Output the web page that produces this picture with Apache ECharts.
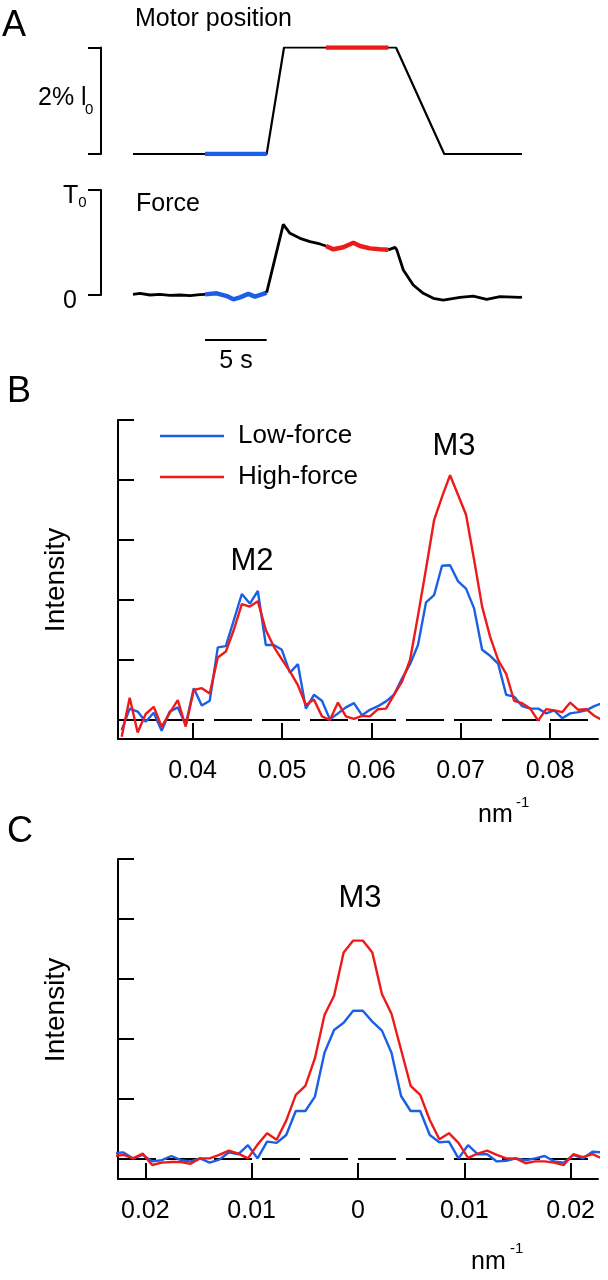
<!DOCTYPE html>
<html><head><meta charset="utf-8">
<script src="https://cdn.jsdelivr.net/npm/echarts@6/dist/echarts.min.js"></script>
<style>html,body{margin:0;padding:0;background:#fff}#c{width:608px;height:1280px}</style>
</head><body><div id="c"></div>
<script>
const FONT = '"Liberation Sans", Arial, Helvetica, sans-serif';
const BLUE = '#1b5fe6';
const RED = '#ee1a1a';

// ---------- Panel A: motor position (time in s, position in % l0) ----------
const motorTime = [0, 10.78, 12.18, 21.21, 25.1, 31.37];
const motorPos  = [0, 0, 2, 2, 0, 0];
const motorLowTime = [5.81, 10.78];
const motorLowPos  = [0, 0];
const motorHighTime = [15.56, 20.59];
const motorHighPos  = [2, 2];

// ---------- Panel A: force (time in s, force in T0) ----------
const forcePreTime = [0, 0.56, 1.37, 2.18, 2.98, 3.79, 4.6, 5.4, 5.81];
const forcePreVal  = [0.006, 0.016, 0, 0.006, -0.003, 0, -0.006, 0.003, 0.006];
const forceLowTime = [5.81, 6.75, 7.56, 8.09, 8.63, 9.3, 9.84, 10.51, 10.78];
const forceLowVal  = [0.006, 0.016, -0.01, -0.041, -0.022, 0.01, -0.016, 0.01, 0.022];
const forceMidTime = [10.78, 12.12, 12.66, 13.47, 14.27, 15.08, 15.56];
const forceMidVal  = [0.022, 0.673, 0.587, 0.54, 0.508, 0.486, 0.467];
const forceHighTime = [15.56, 16.16, 16.96, 17.77, 18.31, 19.11, 19.92, 20.59];
const forceHighVal  = [0.467, 0.435, 0.454, 0.498, 0.467, 0.444, 0.435, 0.43];
const forcePostTime = [20.59, 21.13, 21.27, 21.8, 22.6, 23.41, 24.22, 25.02, 26.37, 27.44, 28.52, 29.6, 31.21, 31.37];
const forcePostVal  = [0.43, 0.454, 0.43, 0.238, 0.095, 0.016, -0.032, -0.048, -0.022, -0.01, -0.041, -0.016, -0.022, -0.02];
const scaleBarTime = [5.81, 10.78];   // 5 s

// ---------- Panel B: meridional intensity profiles (nm^-1) ----------
const qB = [0.03205, 0.03295, 0.03384, 0.03474, 0.03564, 0.03653, 0.03743, 0.03833, 0.03922, 0.04012,
  0.04102, 0.04191, 0.04281, 0.04371, 0.04460, 0.04550, 0.04640, 0.04729, 0.04819, 0.04909,
  0.04998, 0.05088, 0.05178, 0.05267, 0.05357, 0.05447, 0.05536, 0.05626, 0.05715, 0.05805,
  0.05895, 0.05984, 0.06074, 0.06164, 0.06253, 0.06343, 0.06433, 0.06522, 0.06612, 0.06702,
  0.06791, 0.06881, 0.06971, 0.07060, 0.07150, 0.07240, 0.07329, 0.07419, 0.07509, 0.07598,
  0.07688, 0.07778, 0.07867, 0.07957, 0.08047, 0.08136, 0.08226, 0.08316, 0.08405, 0.08495, 0.08585];
const lowB = [-0.17, 0.19, 0.14, -0.03, 0.12, -0.18, 0.14, 0.21, -0.08, 0.53,
  0.24, 0.32, 1.21, 1.23, 1.66, 2.10, 1.94, 2.15, 1.25, 1.25,
  1.17, 0.79, 0.93, 0.19, 0.42, 0.32, 0.01, 0.11, 0.21, 0.28,
  0.08, 0.17, 0.23, 0.31, 0.42, 0.69, 0.93, 1.25, 1.96, 2.08,
  2.57, 2.58, 2.31, 2.19, 1.86, 1.17, 1.07, 0.94, 0.42, 0.39,
  0.23, 0.19, 0.19, 0.11, 0.16, 0.03, 0.11, 0.13, 0.16, 0.23, 0.28];
const highB = [-0.28, 0.37, -0.21, 0.10, 0.22, -0.11, 0.12, 0.33, -0.11, 0.50,
  0.53, 0.44, 1.04, 1.14, 1.50, 1.93, 1.89, 1.98, 1.50, 1.22,
  1.01, 0.81, 0.58, 0.25, 0.34, 0.06, 0.00, 0.29, 0.06, 0.02,
  0.07, 0.06, 0.18, 0.19, 0.42, 0.64, 1.00, 1.74, 2.52, 3.33,
  3.72, 4.08, 3.75, 3.42, 2.67, 1.89, 1.39, 1.00, 0.77, 0.32,
  0.28, 0.19, -0.01, 0.18, 0.16, 0.13, 0.29, 0.17, 0.18, 0.07, 0.00];
const ticksB = [0.04, 0.05, 0.06, 0.07, 0.08];
const rangeB = [0.03164, 0.08537];

// ---------- Panel C: equatorial (radial) profile of M3 (nm^-1) ----------
const qC = [-0.02295, -0.02205, -0.02115, -0.02025, -0.01935, -0.01845, -0.01755, -0.01665, -0.01575, -0.01485,
  -0.01395, -0.01305, -0.01215, -0.01125, -0.01035, -0.00945, -0.00855, -0.00765, -0.00675, -0.00585,
  -0.00495, -0.00405, -0.00315, -0.00225, -0.00135, -0.00045, 0.00045, 0.00135, 0.00225, 0.00315,
  0.00405, 0.00495, 0.00585, 0.00675, 0.00765, 0.00855, 0.00945, 0.01035, 0.01125, 0.01215,
  0.01305, 0.01395, 0.01485, 0.01575, 0.01665, 0.01755, 0.01845, 0.01935, 0.02025, 0.02115, 0.02205, 0.02295];
const lowC = [0.10, 0.11, 0.01, 0.07, -0.04, -0.02, 0.05, -0.02, -0.04, 0.01,
  -0.06, -0.01, 0.11, 0.08, 0.23, 0.01, 0.29, 0.27, 0.40, 0.80,
  0.80, 1.04, 1.77, 2.15, 2.27, 2.47, 2.47, 2.29, 2.14, 1.77,
  1.05, 0.80, 0.80, 0.40, 0.28, 0.29, 0.01, 0.23, 0.08, 0.08,
  -0.04, -0.03, 0.01, -0.02, 0.01, 0.05, -0.04, -0.06, 0.07, 0.01, 0.12, 0.11];
const highC = [0.05, 0.07, 0.01, 0.09, -0.10, -0.06, -0.05, -0.05, -0.08, 0.01,
  0.01, 0.07, 0.14, 0.09, 0.01, 0.24, 0.43, 0.32, 0.64, 1.07,
  1.22, 1.68, 2.40, 2.72, 3.44, 3.64, 3.64, 3.44, 2.75, 2.42,
  1.82, 1.22, 1.07, 0.65, 0.33, 0.43, 0.27, 0.02, 0.09, 0.14,
  0.07, 0.01, 0.01, -0.07, -0.04, -0.04, -0.06, -0.10, 0.08, 0.03, 0.08, 0.01];
const ticksC = [-0.02, -0.01, 0, 0.01, 0.02];
const rangeC = [-0.02257, 0.02257];
const intensityTicks = [0, 1, 2, 3, 4, 5];

// ---------- build ----------
const zip = (a, b) => a.map((v, i) => [v, b[i]]);
const blk = '#000';
function trace(xi, data, color, width, extra) {
  return Object.assign({type: 'line', xAxisIndex: xi, yAxisIndex: xi, data: data, symbol: 'none', showSymbol: false,
    lineStyle: {color: color, width: width}, itemStyle: {color: color}, silent: true, animation: false}, extra || {});
}
const hiddenX = (g, max) => ({gridIndex: g, type: 'value', min: 0, max: max, show: false});
const tickStyle = {color: blk, width: 2};

function baseline(xi, range) {
  return {type: 'line', xAxisIndex: xi, yAxisIndex: xi, data: range.map(x => [x, 0]), symbol: 'none', silent: true,
    lineStyle: {color: blk, width: 2, type: [38, 10], dashOffset: 0}, z: 1, animation: false};
}

function txt(x, y, text, size, align, extra) {
  return Object.assign({type: 'text', x: x, y: y, z: 100, silent: true,
    style: {text: text, font: size + 'px ' + FONT, fill: '#000', align: align || 'left', verticalAlign: 'middle'}}, extra || {});
}

const option = {
  animation: false,
  backgroundColor: '#fff',
  grid: [
    {left: 133, right: 86, top: 47.5, height: 106.5, outerBoundsMode: 'none'},
    {left: 133, right: 86, top: 190, height: 105, outerBoundsMode: 'none'},
    {left: 133, right: 86, top: 330, height: 20, outerBoundsMode: 'none'},
    {left: 118, right: 10, top: 420, height: 319, outerBoundsMode: 'none'},
    {left: 118, right: 10, top: 859, height: 320, outerBoundsMode: 'none'}
  ],
  xAxis: [
    hiddenX(0, 31.37), hiddenX(1, 31.37), hiddenX(2, 31.37),
    {gridIndex: 3, type: 'value', min: rangeB[0], max: rangeB[1],
      axisLine: {show: true, onZero: false, lineStyle: tickStyle},
      axisTick: {show: true, inside: true, length: 16, customValues: ticksB, lineStyle: tickStyle},
      axisLabel: {show: true, customValues: ticksB, formatter: v => v.toFixed(2), margin: 20, color: blk, fontSize: 25, fontFamily: FONT},
      splitLine: {show: false}},
    {gridIndex: 4, type: 'value', min: rangeC[0], max: rangeC[1],
      axisLine: {show: true, onZero: false, lineStyle: tickStyle},
      axisTick: {show: true, inside: true, length: 16, customValues: ticksC, lineStyle: tickStyle},
      axisLabel: {show: true, customValues: ticksC, formatter: v => (Math.abs(v) < 1e-9 ? '0' : Math.abs(v).toFixed(2)), margin: 20, color: blk, fontSize: 25, fontFamily: FONT},
      splitLine: {show: false}}
  ],
  yAxis: [
    {gridIndex: 0, type: 'value', min: 0, max: 2, offset: 32,
      axisLine: {show: true, onZero: false, lineStyle: tickStyle},
      axisTick: {show: true, inside: false, length: 13, customValues: [0, 2], lineStyle: tickStyle},
      axisLabel: {show: false}, splitLine: {show: false}},
    {gridIndex: 1, type: 'value', min: 0, max: 1, offset: 32,
      axisLine: {show: true, onZero: false, lineStyle: tickStyle},
      axisTick: {show: true, inside: false, length: 13, customValues: [0, 1], lineStyle: tickStyle},
      axisLabel: {show: true, customValues: [0, 1], margin: 38, align: 'left', padding: [12, 0, 0, 0],
        formatter: v => (v === 1 ? '{t|T}{s|0}' : '{t|0}'),
        rich: {t: {fontSize: 25, fontFamily: FONT, color: blk}, s: {fontSize: 15, fontFamily: FONT, color: blk, padding: [14, 0, 0, 0]}}},
      splitLine: {show: false}},
    {gridIndex: 2, type: 'value', min: 0, max: 1, show: false},
    {gridIndex: 3, type: 'value', min: -0.317, max: 5,
      axisLine: {show: true, onZero: false, lineStyle: tickStyle},
      axisTick: {show: true, inside: true, length: 16, customValues: intensityTicks, lineStyle: tickStyle},
      axisLabel: {show: false}, splitLine: {show: false}},
    {gridIndex: 4, type: 'value', min: -0.333, max: 5,
      axisLine: {show: true, onZero: false, lineStyle: tickStyle},
      axisTick: {show: true, inside: true, length: 16, customValues: intensityTicks, lineStyle: tickStyle},
      axisLabel: {show: false}, splitLine: {show: false}}
  ],
  legend: {
    data: ['Low-force', 'High-force'], orient: 'vertical', left: 155, top: 418,
    icon: 'path://M0,0H64V2.4H0Z', symbolKeepAspect: true,
    itemWidth: 64, itemHeight: 14, itemGap: 15, selectedMode: false,
    textStyle: {fontSize: 26, color: blk, fontFamily: FONT, padding: [0, 0, 0, 9]}
  },
  series: [
    trace(0, zip(motorTime, motorPos), blk, 2.2),
    trace(0, zip(motorLowTime, motorLowPos), BLUE, 4.5, {z: 3}),
    trace(0, zip(motorHighTime, motorHighPos), RED, 4.5, {z: 3}),
    trace(1, zip(forcePreTime, forcePreVal), blk, 2.8, {clip: false}),
    trace(1, zip(forceLowTime, forceLowVal), BLUE, 4.5, {clip: false, z: 3}),
    trace(1, zip(forceMidTime, forceMidVal), blk, 2.8, {clip: false}),
    trace(1, zip(forceHighTime, forceHighVal), RED, 4.5, {clip: false, z: 3}),
    trace(1, zip(forcePostTime, forcePostVal), blk, 2.8, {clip: false}),
    trace(2, scaleBarTime.map(t => [t, 0.5]), blk, 2),
    baseline(3, rangeB),
    trace(3, zip(qB, lowB), BLUE, 2.4, {name: 'Low-force', z: 2}),
    trace(3, zip(qB, highB), RED, 2.4, {name: 'High-force', z: 3}),
    baseline(4, rangeC),
    trace(4, zip(qC, lowC), BLUE, 2.4, {name: 'Low-force', z: 2}),
    trace(4, zip(qC, highC), RED, 2.4, {name: 'High-force', z: 3})
  ],
  graphic: [
    txt(2, 26, 'A', 36),
    txt(135, 19, 'Motor position', 25),
    txt(38, 98, '2% l', 25),
    txt(85, 110, '0', 15),
    txt(136, 204, 'Force', 25),
    txt(236, 361, '5 s', 25, 'center'),
    txt(7, 392, 'B', 36),
    txt(252, 561, 'M2', 31, 'center'),
    txt(454, 446, 'M3', 31, 'center'),
    txt(56, 580, 'Intensity', 28, 'center', {rotation: Math.PI / 2}),
    txt(478, 815, 'nm', 25),
    txt(516, 803, '-1', 15),
    txt(7, 832, 'C', 36),
    txt(360, 898, 'M3', 31, 'center'),
    txt(56, 1010, 'Intensity', 28, 'center', {rotation: Math.PI / 2}),
    txt(471, 1262, 'nm', 25),
    txt(510, 1249, '-1', 15)
  ]
};
const chart = echarts.init(document.getElementById('c'), null, {renderer: 'canvas', width: 608, height: 1280});
chart.setOption(option);
</script>
</body></html>
